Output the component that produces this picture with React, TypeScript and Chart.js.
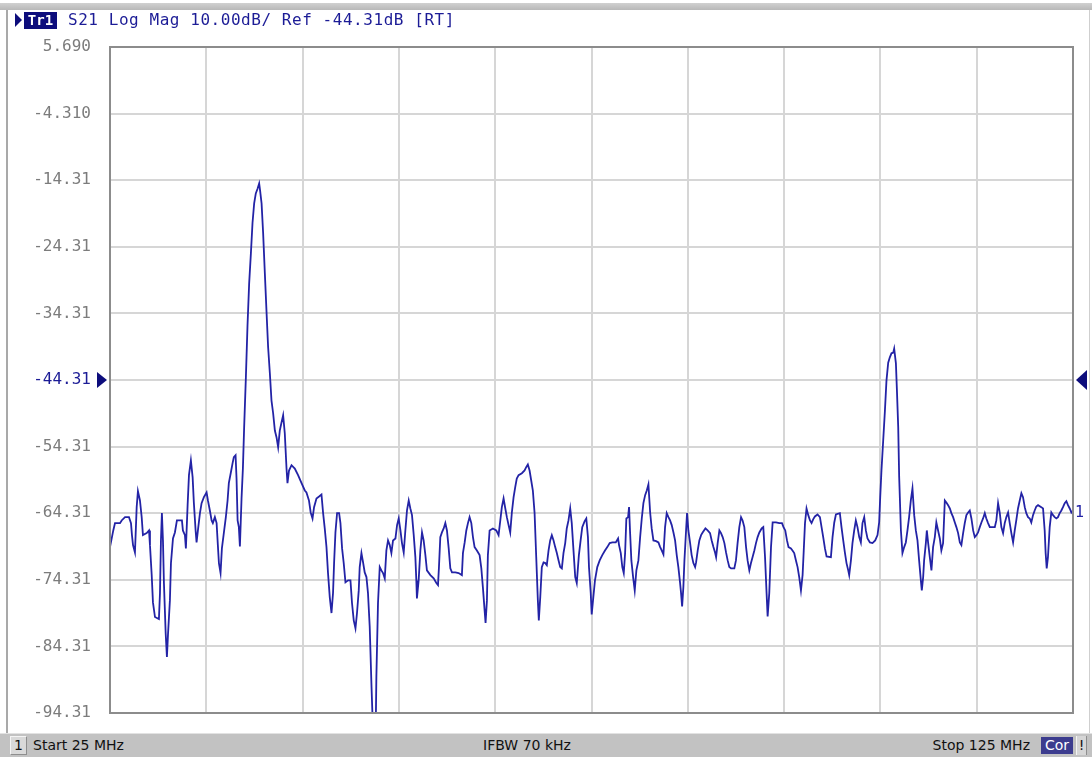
import React, { useEffect, useRef } from "react";
import { Chart, registerables } from "chart.js";

Chart.register(...registerables);

// Sweep / scale settings
const startMHz = 25;
const stopMHz = 125;
const refLevel = -44.31;
const yTickValues = [5.69, -4.31, -14.31, -24.31, -34.31, -44.31, -54.31, -64.31, -74.31, -84.31, -94.31];
const yTickLabels = ["5.690", "-4.310", "-14.31", "-24.31", "-34.31", "-44.31", "-54.31", "-64.31", "-74.31", "-84.31", "-94.31"];
const xGridMHz = [25, 35, 45, 55, 65, 75, 85, 95, 105, 115, 125];

// Trace S21 (frequency in MHz, magnitude in dB)
const freqMHz = [
  25.00, 25.34, 25.52, 26.04, 26.21, 26.56, 26.97, 27.18, 27.28, 27.39,
  27.59, 27.77, 27.90, 28.11, 28.29, 28.42, 28.81, 29.05, 29.15, 29.33,
  29.46, 29.67, 30.08, 30.19, 30.29, 30.39, 30.50, 30.60, 30.78, 30.91,
  31.02, 31.22, 31.33, 31.54, 31.74, 31.95, 32.47, 32.57, 32.78, 32.88,
  33.06, 33.20, 33.40, 33.58, 33.71, 33.89, 33.99, 34.13, 34.34, 34.51,
  34.75, 35.03, 35.17, 35.37, 35.55, 35.68, 35.89, 36.07, 36.20, 36.31,
  36.48, 36.62, 36.83, 37.03, 37.21, 37.34, 37.55, 37.73, 37.86, 38.04,
  38.14, 38.25, 38.38, 38.49, 38.66, 38.80, 38.93, 39.11, 39.28, 39.45,
  39.63, 39.80, 39.97, 40.14, 40.32, 40.49, 40.59, 40.74, 40.90, 41.08,
  41.26, 41.42, 41.60, 41.77, 41.94, 42.12, 42.29, 42.46, 42.63, 42.81,
  42.98, 43.15, 43.33, 43.43, 43.59, 43.85, 44.19, 44.53, 44.89, 45.23,
  45.40, 45.66, 45.84, 46.03, 46.19, 46.44, 46.71, 46.96, 47.13, 47.30,
  47.48, 47.64, 47.82, 48.00, 48.16, 48.27, 48.41, 48.58, 48.79, 48.93,
  49.10, 49.27, 49.45, 49.72, 49.97, 50.13, 50.31, 50.49, 50.65, 50.83,
  50.93, 51.11, 51.28, 51.45, 51.63, 51.79, 51.97, 52.15, 52.31, 52.59,
  52.66, 52.83, 53.01, 53.18, 53.35, 53.53, 53.70, 53.87, 54.05, 54.22,
  54.39, 54.64, 54.81, 54.98, 55.16, 55.32, 55.50, 55.67, 55.84, 56.02,
  56.19, 56.36, 56.54, 56.71, 56.81, 56.87, 57.05, 57.23, 57.40, 57.57,
  57.75, 57.91, 58.27, 58.61, 58.89, 59.06, 59.16, 59.30, 59.47, 59.65,
  59.82, 59.99, 60.17, 60.34, 60.51, 60.86, 61.20, 61.54, 61.65, 61.83,
  62.00, 62.17, 62.34, 62.52, 62.69, 62.86, 63.10, 63.38, 63.56, 63.72,
  63.90, 64.00, 64.14, 64.24, 64.42, 64.76, 65.11, 65.35, 65.53, 65.69,
  65.87, 66.05, 66.21, 66.39, 66.56, 66.73, 66.91, 67.08, 67.24, 67.43,
  67.77, 68.05, 68.22, 68.39, 68.57, 68.74, 68.91, 69.09, 69.26, 69.43,
  69.53, 69.68, 69.84, 70.02, 70.20, 70.36, 70.54, 70.71, 70.88, 71.06,
  71.23, 71.40, 71.58, 71.75, 71.92, 72.09, 72.27, 72.43, 72.61, 72.79,
  72.95, 73.13, 73.31, 73.47, 73.69, 73.87, 74.04, 74.29, 74.46, 74.63,
  74.74, 74.92, 75.02, 75.19, 75.36, 75.60, 75.85, 76.12, 76.40, 76.64,
  76.89, 77.17, 77.52, 77.76, 77.86, 78.04, 78.20, 78.35, 78.49, 78.62,
  78.80, 78.90, 79.01, 79.14, 79.32, 79.49, 79.66, 79.87, 80.05, 80.22,
  80.39, 80.57, 80.74, 80.91, 81.09, 81.25, 81.43, 81.71, 81.95, 82.13,
  82.29, 82.47, 82.64, 82.81, 82.99, 83.16, 83.33, 83.51, 83.68, 83.85,
  84.02, 84.20, 84.30, 84.41, 84.54, 84.65, 84.82, 84.92, 85.06, 85.24,
  85.40, 85.58, 85.76, 85.86, 86.03, 86.20, 86.38, 86.54, 86.83, 87.06,
  87.31, 87.48, 87.66, 87.83, 87.94, 88.10, 88.28, 88.45, 88.62, 88.80,
  88.97, 89.14, 89.31, 89.49, 89.83, 90.00, 90.17, 90.35, 90.53, 90.69,
  90.87, 91.05, 91.21, 91.39, 91.56, 91.73, 91.91, 92.08, 92.25, 92.43,
  92.67, 92.84, 93.02, 93.18, 93.29, 93.46, 93.64, 93.81, 94.16, 94.50,
  94.78, 94.94, 95.12, 95.30, 95.46, 95.71, 95.87, 96.05, 96.23, 96.40,
  96.57, 96.75, 96.92, 97.04, 97.17, 97.33, 97.51, 97.69, 97.85, 98.03,
  98.20, 98.47, 98.72, 98.89, 99.06, 99.24, 99.41, 99.86, 100.03, 100.21,
  100.38, 100.79, 100.96, 101.14, 101.31, 101.48, 101.66, 101.76, 101.94, 102.10,
  102.28, 102.45, 102.62, 102.80, 102.97, 103.14, 103.32, 103.49, 103.66, 103.91,
  104.18, 104.46, 104.70, 104.87, 104.98, 105.11, 105.29, 105.47, 105.63, 105.81,
  105.98, 106.15, 106.33, 106.43, 106.61, 106.71, 106.85, 106.95, 107.13, 107.29,
  107.47, 107.64, 107.81, 107.98, 108.16, 108.33, 108.51, 108.68, 108.85, 109.02,
  109.20, 109.30, 109.44, 109.54, 109.72, 109.82, 109.96, 110.13, 110.30, 110.47,
  110.65, 110.81, 110.99, 111.17, 111.33, 111.51, 111.69, 111.85, 112.03, 112.21,
  112.37, 112.55, 112.73, 112.89, 113.07, 113.25, 113.41, 113.59, 113.76, 113.93,
  114.11, 114.28, 114.45, 114.63, 114.80, 114.97, 115.14, 115.32, 115.49, 115.66,
  115.84, 116.00, 116.18, 116.36, 116.88, 117.04, 117.22, 117.40, 117.56, 117.74,
  117.91, 118.08, 118.26, 118.43, 118.60, 118.78, 118.95, 119.11, 119.29, 119.47,
  119.64, 119.81, 119.99, 120.15, 120.33, 120.51, 120.67, 120.85, 121.02, 121.19,
  121.37, 121.71, 121.89, 122.06, 122.16, 122.27, 122.40, 122.58, 122.75, 122.93,
  123.10, 123.27, 123.44, 123.62, 123.79, 123.96, 124.14, 124.31, 124.48, 124.66,
  124.83, 125.00,
];

const s21dB = [
  -69.4, -66.9, -65.8, -65.8, -65.4, -64.9, -64.9, -65.8, -67.6, -69.1,
  -70.2, -63.4, -61.0, -62.4, -64.9, -67.6, -67.3, -66.9, -69.1, -73.6,
  -77.7, -79.9, -80.2, -76.3, -68.4, -64.3, -68.4, -74.8, -82.3, -85.9,
  -82.6, -77.4, -71.8, -68.1, -67.2, -65.4, -65.4, -66.9, -67.6, -69.6,
  -63.1, -58.6, -56.4, -58.9, -62.8, -66.9, -68.7, -66.9, -64.3, -62.8,
  -61.9, -61.2, -62.4, -63.9, -65.4, -65.8, -64.9, -65.8, -69.1, -71.8,
  -73.3, -69.6, -67.2, -64.9, -62.4, -59.8, -58.2, -56.8, -55.9, -55.6,
  -59.1, -65.4, -66.4, -69.3, -62.1, -57.6, -51.4, -43.9, -36.1, -29.8,
  -25.3, -20.7, -17.8, -16.3, -15.6, -14.8, -15.9, -17.8, -22.2, -28.3,
  -34.3, -39.4, -43.3, -47.4, -49.3, -51.9, -52.9, -54.4, -51.9, -50.7,
  -49.6, -52.3, -57.6, -59.8, -57.9, -57.1, -57.6, -58.6, -59.8, -60.9,
  -61.2, -62.4, -64.2, -65.1, -63.4, -62.1, -61.8, -61.5, -64.3, -66.6,
  -69.4, -73.3, -76.9, -79.3, -76.3, -71.8, -67.2, -64.3, -64.3, -65.8,
  -69.6, -71.8, -74.7, -74.4, -74.4, -77.8, -80.4, -81.6, -79.3, -75.9,
  -72.4, -70.3, -71.7, -73.2, -73.9, -76.3, -81.4, -90.1, -97.0, -97.0,
  -88.9, -77.8, -72.4, -72.9, -73.3, -74.1, -69.9, -68.4, -69.1, -70.3,
  -68.4, -68.1, -66.1, -65.1, -66.9, -68.8, -70.2, -66.9, -63.9, -62.4,
  -63.6, -64.6, -67.6, -70.9, -74.4, -77.1, -74.4, -69.9, -67.2, -68.4,
  -70.6, -72.9, -73.6, -74.1, -74.8, -75.1, -72.4, -67.9, -67.2, -66.6,
  -65.8, -66.9, -69.6, -72.6, -73.2, -73.2, -73.3, -73.6, -70.3, -68.7,
  -66.9, -65.8, -64.9, -65.8, -67.9, -69.4, -69.9, -70.6, -72.6, -75.4,
  -78.9, -80.8, -77.4, -70.6, -66.9, -66.6, -66.9, -67.6, -65.4, -63.4,
  -62.1, -63.6, -64.9, -66.1, -67.2, -64.2, -61.9, -60.4, -59.1, -58.6,
  -58.3, -57.9, -57.4, -57.0, -57.9, -59.4, -60.9, -64.3, -70.9, -77.4,
  -80.4, -76.9, -72.4, -71.7, -71.8, -72.1, -69.9, -68.4, -67.6, -68.4,
  -69.4, -70.3, -71.4, -72.4, -72.6, -70.3, -68.8, -66.6, -65.4, -63.6,
  -65.8, -69.9, -73.9, -74.8, -70.6, -68.4, -66.4, -65.5, -65.1, -67.9,
  -72.4, -76.3, -79.5, -76.9, -74.4, -72.4, -71.4, -70.6, -69.9, -69.4,
  -68.8, -68.7, -68.7, -68.1, -69.1, -70.3, -72.4, -73.3, -70.3, -65.1,
  -64.9, -63.4, -67.3, -71.4, -73.9, -75.9, -72.9, -71.4, -67.9, -65.1,
  -62.8, -61.6, -60.9, -60.0, -64.2, -66.6, -68.4, -68.5, -68.7, -69.4,
  -69.9, -70.5, -66.4, -64.3, -64.9, -65.4, -66.1, -67.2, -68.4, -70.6,
  -72.4, -74.8, -76.3, -78.3, -75.4, -71.4, -66.9, -64.3, -66.9, -68.8,
  -70.6, -71.8, -72.4, -71.7, -69.9, -68.4, -67.6, -67.2, -66.6, -66.9,
  -67.3, -68.4, -69.4, -70.2, -70.9, -68.8, -66.9, -67.3, -67.9, -68.8,
  -70.2, -71.4, -72.4, -72.6, -72.6, -71.4, -68.8, -66.4, -64.9, -65.4,
  -66.4, -69.4, -71.4, -72.9, -71.8, -70.9, -69.9, -68.8, -67.9, -67.2,
  -66.6, -66.4, -70.9, -76.3, -79.8, -76.3, -69.4, -65.7, -65.7, -65.8,
  -65.8, -66.4, -66.9, -68.4, -69.4, -69.6, -69.9, -70.3, -71.4, -72.4,
  -73.9, -75.9, -73.6, -69.9, -65.8, -63.6, -64.6, -65.4, -65.8, -65.2,
  -64.8, -64.5, -64.9, -66.4, -67.9, -69.6, -70.8, -70.9, -67.9, -65.7,
  -64.5, -64.3, -66.4, -68.4, -70.2, -71.8, -72.9, -73.6, -71.4, -68.8,
  -66.9, -65.4, -66.4, -67.9, -68.7, -65.8, -64.9, -66.9, -68.1, -68.7,
  -68.8, -68.4, -67.6, -65.7, -61.9, -57.9, -53.4, -48.9, -44.4, -41.7,
  -40.9, -40.3, -40.2, -39.6, -41.8, -45.6, -51.4, -58.9, -66.9, -70.3,
  -69.4, -68.7, -66.9, -64.9, -62.4, -60.6, -64.6, -66.9, -68.4, -71.4,
  -74.4, -75.9, -73.9, -71.4, -68.8, -66.9, -68.8, -70.9, -72.9, -69.4,
  -67.9, -65.7, -66.9, -68.1, -69.9, -68.8, -62.4, -62.7, -63.1, -63.6,
  -64.3, -64.9, -65.7, -66.4, -67.3, -68.7, -69.1, -67.3, -65.8, -64.6,
  -64.2, -63.9, -65.1, -66.9, -67.9, -67.6, -67.2, -66.4, -65.7, -65.1,
  -64.3, -65.1, -65.8, -66.4, -66.4, -65.4, -62.8, -64.3, -66.4, -67.3,
  -65.8, -64.9, -64.2, -65.8, -67.3, -68.7, -66.9, -65.4, -63.6, -62.4,
  -61.3, -61.9, -63.4, -64.3, -64.9, -65.1, -65.7, -64.6, -63.9, -63.3,
  -63.1, -63.4, -63.6, -66.9, -70.3, -72.6, -70.9, -66.4, -64.2, -64.6,
  -64.9, -65.1, -64.9, -64.3, -63.9, -63.4, -62.8, -62.5, -63.1, -63.6,
  -64.2, -63.9,
];

const headerText = "S21 Log Mag 10.00dB/ Ref -44.31dB [RT]";
const traceName = "Tr1";
const startLabel = "Start 25 MHz";
const ifbwLabel = "IFBW 70 kHz";
const stopLabel = "Stop 125 MHz";
const channelLabel = "1";
const corLabel = "Cor";
const markerLabel = "1";

const TRACE_BLUE = "#2323a6";
const TEXT_BLUE = "#1c1c96";
const NAVY = "#0d0d7c";
const MONO = "'DejaVu Sans Mono', monospace";
const SANS = "'DejaVu Sans', sans-serif";

const framePlugin = {
  id: "vnaFrame",
  afterDraw(chart: any) {
    const { ctx, chartArea, scales } = chart;
    const { left, right, top, bottom } = chartArea;
    const y = scales.y;
    ctx.save();
    ctx.strokeStyle = "#8c8c8c";
    ctx.lineWidth = 2;
    ctx.strokeRect(left, top, right - left, bottom - top);
    const yr = y.getPixelForValue(refLevel);
    ctx.fillStyle = NAVY;
    ctx.beginPath();
    ctx.moveTo(left - 13, yr - 8);
    ctx.lineTo(left - 3, yr);
    ctx.lineTo(left - 13, yr + 8);
    ctx.closePath();
    ctx.fill();
    ctx.beginPath();
    ctx.moveTo(right + 14, yr - 10);
    ctx.lineTo(right + 3, yr);
    ctx.lineTo(right + 14, yr + 10);
    ctx.closePath();
    ctx.fill();
    const lastY = y.getPixelForValue(s21dB[s21dB.length - 1]);
    ctx.fillStyle = TRACE_BLUE;
    ctx.font = "15px " + MONO;
    ctx.textAlign = "left";
    ctx.textBaseline = "middle";
    ctx.fillText(markerLabel, right + 2, lastY + 3);
    ctx.restore();
  },
};

export default function App() {
  const canvasRef = useRef<HTMLCanvasElement | null>(null);

  useEffect(() => {
    if (!canvasRef.current) return;
    const points = freqMHz.map((f, i) => ({ x: f, y: s21dB[i] }));
    const chart = new Chart(canvasRef.current, {
      type: "line",
      data: {
        datasets: [
          {
            label: "S21",
            data: points,
            borderColor: TRACE_BLUE,
            borderWidth: 1.8,
            pointRadius: 0,
            tension: 0,
            fill: false,
          },
        ],
      },
      options: {
        animation: false,
        responsive: false,
        devicePixelRatio: 1,
        layout: { padding: { top: 47, right: 19, bottom: 47, left: 0 } },
        plugins: {
          legend: { display: false },
          tooltip: { enabled: false },
        },
        scales: {
          x: {
            type: "linear",
            min: startMHz,
            max: stopMHz,
            afterBuildTicks: (scale: any) => {
              scale.ticks = xGridMHz.map((v) => ({ value: v }));
            },
            afterFit: (scale: any) => {
              scale.height = 0;
            },
            ticks: { display: false },
            grid: { color: "#d6d6d6", lineWidth: 2, drawTicks: false },
            border: { display: false },
          },
          y: {
            type: "linear",
            min: yTickValues[yTickValues.length - 1],
            max: yTickValues[0],
            afterBuildTicks: (scale: any) => {
              scale.ticks = yTickValues.map((v) => ({ value: v }));
            },
            afterFit: (scale: any) => {
              scale.width = 110;
            },
            ticks: {
              padding: 19,
              font: { family: "DejaVu Sans Mono", size: 16 },
              color: (c: any) =>
                c.tick && Math.abs(c.tick.value - refLevel) < 0.01 ? TEXT_BLUE : "#7c7c7c",
              callback: (value: any) => {
                const idx = yTickValues.findIndex((v) => Math.abs(v - Number(value)) < 0.001);
                return idx >= 0 ? yTickLabels[idx] : "";
              },
            },
            grid: { color: "#d6d6d6", lineWidth: 2, drawTicks: false },
            border: { display: false },
          },
        },
      },
      plugins: [framePlugin],
    } as any);
    return () => chart.destroy();
  }, []);

  const abs = (s: React.CSSProperties): React.CSSProperties => ({ position: "absolute", ...s });

  return (
    <div
      style={{
        position: "absolute",
        left: 0,
        top: 0,
        width: 1092,
        height: 760,
        overflow: "hidden",
        background: "#ffffff",
      }}
    >
      <canvas ref={canvasRef} width={1092} height={760} style={abs({ left: 0, top: 0, width: 1092, height: 760 })} />
      {/* window frame */}
      <div style={abs({ left: 0, top: 3, width: 1092, height: 7, background: "linear-gradient(#d0d0d0, #b8b8b8)" })} />
      <div style={abs({ left: 6, top: 10, width: 2, height: 723, background: "#a9a9a9" })} />
      <div style={abs({ left: 1089, top: 10, width: 1, height: 723, background: "#cfcfcf" })} />
      {/* header */}
      <div
        style={abs({
          left: 15,
          top: 13,
          width: 0,
          height: 0,
          borderTop: "7px solid transparent",
          borderBottom: "7px solid transparent",
          borderLeft: "7px solid " + NAVY,
        })}
      />
      <div
        style={abs({
          left: 24,
          top: 12,
          width: 33,
          height: 17,
          background: NAVY,
          color: "#ffffff",
          fontFamily: MONO,
          fontWeight: "bold",
          fontSize: 14,
          lineHeight: "17px",
          textAlign: "center",
        })}
      >
        {traceName}
      </div>
      <div
        style={abs({
          left: 68,
          top: 10,
          fontFamily: MONO,
          fontSize: 16,
          letterSpacing: "0.55px",
          lineHeight: "20px",
          color: TEXT_BLUE,
          whiteSpace: "pre",
        })}
      >
        {headerText}
      </div>
      {/* status bar */}
      <div
        style={abs({
          left: 0,
          top: 733,
          width: 1092,
          height: 24,
          background: "#c2c2c2",
          borderTop: "1px solid #e2e2e2",
          boxSizing: "border-box",
          fontFamily: SANS,
          fontSize: 14,
          color: "#111111",
        })}
      >
        <div
          style={abs({
            left: 10,
            top: 2,
            width: 17,
            height: 19,
            background: "#d9d9d9",
            borderTop: "1px solid #f4f4f4",
            borderLeft: "1px solid #f4f4f4",
            borderRight: "1px solid #8e8e8e",
            borderBottom: "1px solid #8e8e8e",
            boxSizing: "border-box",
            lineHeight: "17px",
            textAlign: "center",
          })}
        >
          {channelLabel}
        </div>
        <div style={abs({ left: 33, top: 0, lineHeight: "23px", whiteSpace: "pre" })}>{startLabel}</div>
        <div style={abs({ left: 427, width: 200, top: 0, lineHeight: "23px", textAlign: "center", whiteSpace: "pre" })}>
          {ifbwLabel}
        </div>
        <div style={abs({ left: 830, width: 200, top: 0, lineHeight: "23px", textAlign: "right", whiteSpace: "pre" })}>
          {stopLabel}
        </div>
        <div
          style={abs({
            left: 1041,
            top: 3,
            width: 32,
            height: 17,
            background: "#3c3c8e",
            color: "#ffffff",
            lineHeight: "17px",
            textAlign: "center",
          })}
        >
          {corLabel}
        </div>
        <div
          style={abs({
            left: 1076,
            top: 2,
            width: 11,
            height: 19,
            background: "#d6d6d6",
            borderLeft: "1px solid #f4f4f4",
            borderRight: "1px solid #8e8e8e",
            boxSizing: "border-box",
            lineHeight: "19px",
            textAlign: "center",
          })}
        >
          !
        </div>
      </div>
    </div>
  );
}
